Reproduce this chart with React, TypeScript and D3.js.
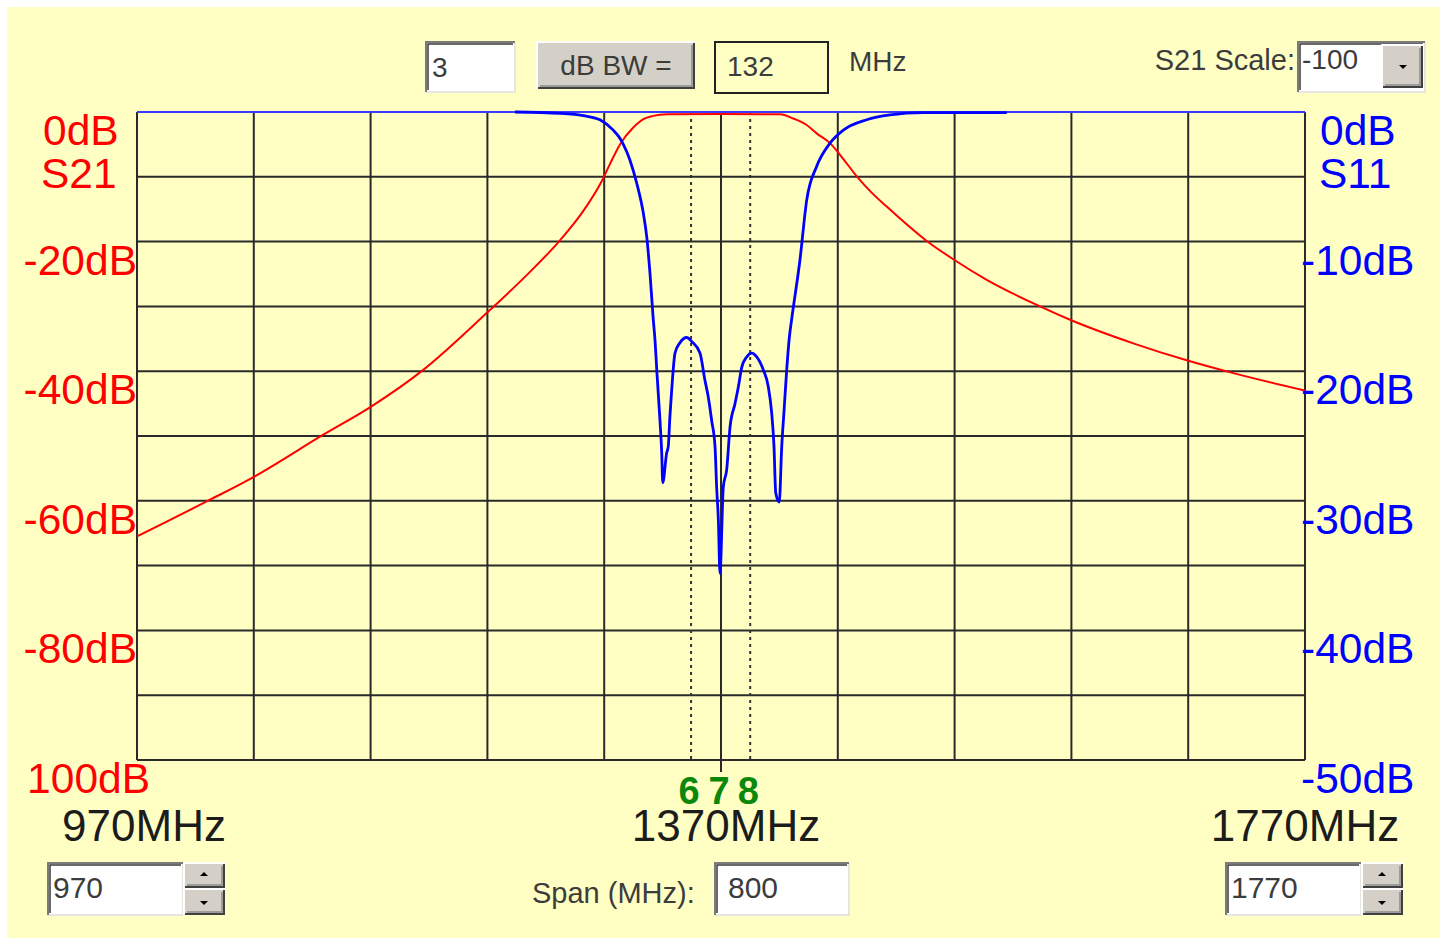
import { useEffect, useRef } from "react";
import * as d3 from "d3";

const WIDTH = 1447;
const HEIGHT = 941;
const PANEL = "#ffffc4";

const PLOT = { left: 137, right: 1305, top: 112, bottom: 760 };

const startFreq = 970;
const stopFreq = 1770;
const freqStep = 80;
const freqLabelValues = [970, 1370, 1770];

const s21LabelValues = [0, -20, -40, -60, -80, -100];
const s11LabelValues = [0, -10, -20, -30, -40, -50];

const markerNames = ["6", "7", "8"];
const markerFreqs = [1349.5, 1370, 1390];

// S21 (transmission), MHz / dB, left scale
const s21Freq = [
  970, 1017.7, 1050.1, 1097.6, 1130.1, 1166.1, 1210.6, 1235, 1259.7, 1275,
  1288, 1294, 1300.8, 1309.9, 1316.8, 1323.6, 1332.8, 1370, 1410.4, 1419.5,
  1428.7, 1435.5, 1444.7, 1451.5, 1464, 1473, 1483.5, 1510.9, 1529.6, 1552,
  1588.5, 1609.5, 1652.4, 1690.1, 1720.9, 1770,
];
const s21Db = [
  -65.5, -60.1, -56.3, -49.8, -45.5, -39.8, -30.8, -25.6, -19.8, -15.5,
  -10.8, -8.0, -5.0, -2.4, -1.1, -0.6, -0.35, -0.3, -0.35, -1.0,
  -2.0, -3.3, -4.8, -6.6, -10.2, -12.4, -14.6, -19.9, -22.8, -25.9,
  -30.0, -32.1, -35.7, -38.4, -40.3, -43.0,
];

// S11 (return loss), MHz / dB, right scale
const s11Freq = [
  1228.9, 1259.7, 1276.8, 1287.1, 1296.2, 1300, 1303.1, 1307.6, 1312.3, 1316.8,
  1319.1, 1321.4, 1323.6, 1324.8, 1326.0, 1328.2, 1329.4, 1330.1, 1332.8, 1333.9,
  1335.0, 1336.2, 1338.5, 1341.9, 1346.5, 1349.9, 1355.6, 1359.0, 1361.3, 1363.6,
  1365.9, 1367.0, 1368.2, 1369.3, 1371.6, 1373.9, 1376.2, 1379.6, 1381.9, 1384.2,
  1387.6, 1391.0, 1394.5, 1399.0, 1402.4, 1404.7, 1406.3, 1407.5, 1409.9, 1411.6,
  1413.1, 1415.0, 1416.8, 1418.4, 1424.1, 1428.7, 1435.5, 1444.7, 1453.8, 1469.8,
  1485.8, 1508.4, 1565.7,
];
const s11Db = [
  0, -0.1, -0.3, -0.6, -1.4, -1.9, -2.5, -3.7, -5.5, -7.8,
  -9.6, -12.5, -16.0, -17.6, -19.9, -23.8, -26.3, -28.6, -26.3, -25.8,
  -23.5, -21.5, -18.6, -17.8, -17.4, -17.7, -18.6, -20.7, -22.0, -23.8,
  -25.8, -28.9, -31.5, -35.6, -28.9, -27.6, -24.3, -22.5, -21.2, -19.7,
  -18.9, -18.6, -18.9, -19.9, -21.2, -23.2, -25.8, -29.4, -30.1, -25.8,
  -23.2, -19.9, -17.4, -16.0, -11.4, -6.8, -4.2, -2.4, -1.4, -0.6,
  -0.23, -0.05, -0.05,
];

const FONT = "'Liberation Sans', Arial, sans-serif";
const CTRL_TEXT = "#3c3c3c";

const Sunken = ({ x, y, w, h, fill = "#ffffff" }) => (
  <g>
    <rect x={x} y={y} width={w} height={h} fill={fill} />
    <path d={`M${x},${y + h} H${x + w} V${y}`} stroke="#e6e6e0" strokeWidth={2} fill="none" />
    <path d={`M${x},${y + h} V${y} H${x + w}`} stroke="#7a7a7a" strokeWidth={2} fill="none" />
    <path d={`M${x + 2},${y + h - 2} V${y + 2} H${x + w - 2}`} stroke="#3a3a3a" strokeWidth={1.5} fill="none" />
  </g>
);

const Raised = ({ x, y, w, h }) => (
  <g>
    <rect x={x} y={y} width={w} height={h} fill="#d4d0c8" />
    <path d={`M${x},${y + h} V${y} H${x + w}`} stroke="#ffffff" strokeWidth={2} fill="none" />
    <path d={`M${x + 1},${y + h - 1} H${x + w - 1} V${y + 1}`} stroke="#404040" strokeWidth={2} fill="none" />
    <path d={`M${x + 3},${y + h - 3} H${x + w - 3} V${y + 3}`} stroke="#8a8a8a" strokeWidth={1.5} fill="none" />
  </g>
);

const Arrow = ({ cx, cy, up }) => (
  <path
    d={up ? `M${cx - 4},${cy + 2} L${cx + 4},${cy + 2} L${cx},${cy - 2} Z` : `M${cx - 4},${cy - 2} L${cx + 4},${cy - 2} L${cx},${cy + 2} Z`}
    fill="#000"
  />
);

const Spinner = ({ x, y, value }) => (
  <g>
    <Sunken x={x} y={y} w={135} h={52} />
    <text x={x + 5} y={y + 35} fontSize={30} fontFamily={FONT} fill={CTRL_TEXT}>{value}</text>
    <Raised x={x + 136} y={y} w={41} h={25} />
    <Raised x={x + 136} y={y + 26} w={41} h={26} />
    <Arrow cx={x + 156} cy={y + 11} up />
    <Arrow cx={x + 156} cy={y + 40} up={false} />
  </g>
);

const Chart = () => {
  const gRef = useRef(null);

  useEffect(() => {
    const g = d3.select(gRef.current);
    g.selectAll("*").remove();

    const x = d3.scaleLinear().domain([startFreq, stopFreq]).range([PLOT.left, PLOT.right]);
    const y21 = d3.scaleLinear().domain([0, -100]).range([PLOT.top, PLOT.bottom]);
    const y11 = d3.scaleLinear().domain([0, -50]).range([PLOT.top, PLOT.bottom]);

    g.append("clipPath")
      .attr("id", "plotClip")
      .append("rect")
      .attr("x", PLOT.left)
      .attr("y", PLOT.top - 2)
      .attr("width", PLOT.right - PLOT.left)
      .attr("height", PLOT.bottom - PLOT.top + 2);

    // grid
    g.append("g")
      .selectAll("line")
      .data(d3.range(startFreq, stopFreq + 1, freqStep))
      .join("line")
      .attr("x1", (d) => x(d))
      .attr("x2", (d) => x(d))
      .attr("y1", PLOT.top)
      .attr("y2", PLOT.bottom)
      .attr("stroke", "#2a2a2a")
      .attr("stroke-width", 2);

    g.append("g")
      .selectAll("line")
      .data(d3.range(-10, -101, -10))
      .join("line")
      .attr("x1", PLOT.left)
      .attr("x2", PLOT.right)
      .attr("y1", (d) => y21(d))
      .attr("y2", (d) => y21(d))
      .attr("stroke", "#2a2a2a")
      .attr("stroke-width", 2);

    // markers
    markerFreqs.forEach((f, i) => {
      if (markerNames[i] === "7") {
        g.append("line")
          .attr("x1", x(f)).attr("x2", x(f))
          .attr("y1", PLOT.top).attr("y2", PLOT.bottom + 12)
          .attr("stroke", "#2a2a2a").attr("stroke-width", 2);
      } else {
        g.append("line")
          .attr("x1", x(f)).attr("x2", x(f))
          .attr("y1", PLOT.top).attr("y2", PLOT.bottom)
          .attr("stroke", "#333").attr("stroke-width", 2)
          .attr("stroke-dasharray", "3,4");
      }
    });

    // top border (blue)
    g.append("line")
      .attr("x1", PLOT.left).attr("x2", PLOT.right)
      .attr("y1", PLOT.top).attr("y2", PLOT.top)
      .attr("stroke", "#3c3cff").attr("stroke-width", 2);

    const curves = g.append("g").attr("clip-path", "url(#plotClip)");

    const s21Line = d3
      .line()
      .x((d, i) => x(s21Freq[i]))
      .y((d) => y21(d))
      .curve(d3.curveMonotoneX);

    curves.append("path")
      .datum(s21Db)
      .attr("d", s21Line)
      .attr("fill", "none")
      .attr("stroke", "#ff0000")
      .attr("stroke-width", 2);

    const s11Line = d3
      .line()
      .x((d, i) => x(s11Freq[i]))
      .y((d) => y11(d))
      .curve(d3.curveMonotoneX);

    curves.append("path")
      .datum(s11Db)
      .attr("d", s11Line)
      .attr("fill", "none")
      .attr("stroke", "#0000ff")
      .attr("stroke-width", 2.8)
      .attr("stroke-linejoin", "round");

    // left S21 labels
    const left = g.append("g").attr("font-family", FONT).attr("font-size", 42.5).attr("fill", "#ff0000");
    left.selectAll("text")
      .data(s21LabelValues)
      .join("text")
      .attr("x", (d) => (d === 0 ? 43 : d === -100 ? 150 : 137))
      .attr("y", (d) => y21(d) + 33)
      .attr("text-anchor", (d) => (d === 0 ? "start" : "end"))
      .text((d) => `${d}dB`);
    left.append("text").attr("x", 41).attr("y", 188).text("S21");

    // right S11 labels
    const right = g.append("g").attr("font-family", FONT).attr("font-size", 42.5).attr("fill", "#0000ff");
    right.selectAll("text")
      .data(s11LabelValues)
      .join("text")
      .attr("x", (d) => (d === 0 ? 1320 : 1301))
      .attr("y", (d) => y11(d) + 33)
      .text((d) => `${d}dB`);
    right.append("text").attr("x", 1319).attr("y", 188).text("S11");

    // frequency labels
    g.append("g")
      .attr("font-family", FONT)
      .attr("font-size", 44)
      .attr("fill", "#1c1c1c")
      .attr("text-anchor", "middle")
      .selectAll("text")
      .data(freqLabelValues)
      .join("text")
      .attr("x", (d) => x(d) + (d === startFreq ? 7 : d === stopFreq ? 0 : 5))
      .attr("y", 841)
      .text((d) => `${d}MHz`);

    // marker numbers
    g.append("g")
      .attr("font-family", FONT)
      .attr("font-size", 38)
      .attr("font-weight", "bold")
      .attr("fill", "#0b870b")
      .attr("text-anchor", "middle")
      .selectAll("text")
      .data(markerFreqs)
      .join("text")
      .attr("x", (d) => x(d) - 2)
      .attr("y", 804)
      .text((d, i) => markerNames[i]);
  }, []);

  return <g ref={gRef} />;
};

export default function App() {
  return (
    <svg
      width={WIDTH}
      height={HEIGHT}
      style={{ position: "absolute", left: 0, top: 0, background: "#ffffff" }}
    >
      <rect x={7} y={7} width={1433} height={931} fill={PANEL} />

      {/* top controls */}
      <Sunken x={426} y={42} w={89} h={50} />
      <text x={432} y={77} fontSize={28} fontFamily={FONT} fill={CTRL_TEXT}>3</text>
      <Raised x={537} y={42} w={158} h={47} />
      <text x={616} y={75} fontSize={28} fontFamily={FONT} fill={CTRL_TEXT} textAnchor="middle">dB BW =</text>
      <rect x={715} y={42} width={113} height={51} fill="none" stroke="#222" strokeWidth={2} />
      <text x={727} y={76} fontSize={28} fontFamily={FONT} fill={CTRL_TEXT}>132</text>
      <text x={849} y={71} fontSize={28} fontFamily={FONT} fill={CTRL_TEXT}>MHz</text>

      <text x={1295} y={70} fontSize={29} fontFamily={FONT} fill={CTRL_TEXT} textAnchor="end">S21 Scale:</text>
      <Sunken x={1298} y={42} w={127} h={50} />
      <text x={1302} y={69} fontSize={28} fontFamily={FONT} fill={CTRL_TEXT}>-100</text>
      <Raised x={1382} y={45} w={41} h={43} />
      <Arrow cx={1403} cy={67} up={false} />

      <Chart />
      {/* label box of the start frequency overlaps the -100dB minus sign */}
      <rect x={14} y={770} width={17} height={20} fill={PANEL} />

      {/* bottom controls */}
      <Spinner x={48} y={863} value="970" />
      <text x={532} y={903} fontSize={29} fontFamily={FONT} fill={CTRL_TEXT}>Span (MHz):</text>
      <Sunken x={715} y={863} w={134} h={52} />
      <text x={728} y={898} fontSize={30} fontFamily={FONT} fill={CTRL_TEXT}>800</text>
      <Spinner x={1226} y={863} value="1770" />
    </svg>
  );
}
